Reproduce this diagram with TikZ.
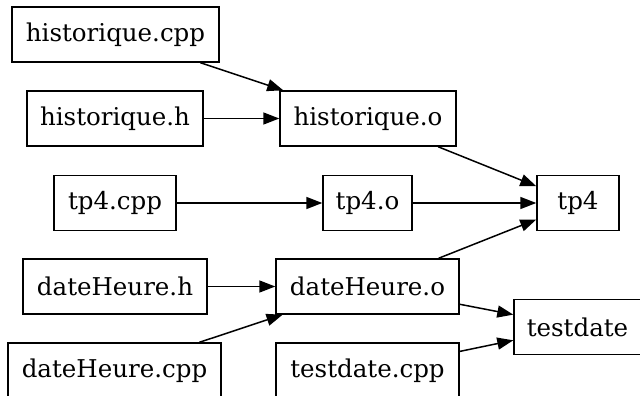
\documentclass[tikz,border=0pt]{standalone}
\usepackage{fontspec}
\setmainfont{DejaVu Serif}
\usetikzlibrary{arrows.meta}
\begin{document}
\begin{tikzpicture}[x=1pt,y=-1pt,
  file/.style={draw,line width=1.4pt,inner sep=0pt,minimum height=55pt,font=\fontsize{24.5}{29}\selectfont},
  dep/.style={draw,line width=1.5pt,-{Triangle[length=16pt,width=12pt]}}]
\useasboundingbox (0,0) rectangle (640,396);
\clip (0,0) rectangle (640,396);
\node[file,minimum width=207pt] (hcpp) at (115.5,34.5) {historique.cpp};
\node[file,minimum width=176pt] (hh) at (115,118.5) {historique.h};
\node[file,minimum width=176pt] (ho) at (368,118.5) {historique.o};
\node[file,minimum width=122pt] (tcpp) at (115,203) {tp4.cpp};
\node[file,minimum width=89pt] (to) at (367.5,203) {tp4.o};
\node[file,minimum width=82pt] (tp) at (578,203) {tp4};
\node[file,minimum width=184pt] (dh) at (115,286.5) {dateHeure.h};
\node[file,minimum width=183pt] (dho) at (367.5,286.5) {dateHeure.o};
\node[file,minimum width=127pt] (td) at (577.5,327) {testdate};
\node[file,minimum width=213pt] (dcpp) at (114.5,370.5) {dateHeure.cpp};
\node[file,minimum width=183pt] (tdcpp) at (367.5,370.5) {testdate.cpp};
\draw[dep] (hcpp) -- (ho);
\draw[dep] (hh) -- (ho);
\draw[dep] (ho) -- (tp);
\draw[dep] (tcpp) -- (to);
\draw[dep] (to) -- (tp);
\draw[dep] (dho) -- (tp);
\draw[dep] (dh) -- (dho);
\draw[dep] (dcpp) -- (dho);
\draw[dep] (dho) -- (td);
\draw[dep] (tdcpp) -- (td);
\end{tikzpicture}
\end{document}
